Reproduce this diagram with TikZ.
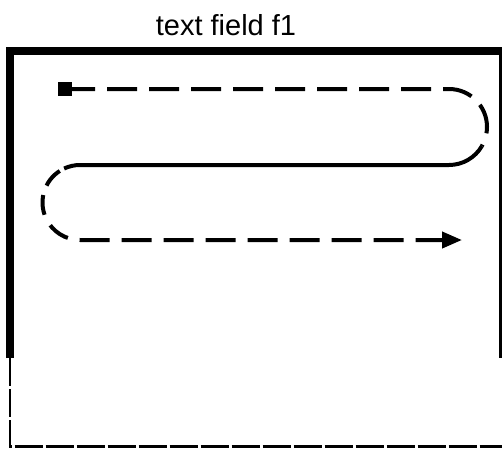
\documentclass[tikz,border=0pt]{standalone}
\usepackage{fontspec}
\setmainfont{Liberation Sans}
\usetikzlibrary{arrows.meta,calc}
\begin{document}
\begin{tikzpicture}[x=1pt,y=-1pt,
  frame/.style={line width=7.5pt},
  framelow/.style={line width=2.5pt,dash pattern=on 28pt off 3pt},
  route/.style={line width=4pt},
  routedash/.style={route,dash pattern=on 30pt off 12pt},
  arcdash/.style={route,dash pattern=on 20pt off 10pt on 20pt off 12pt on 22pt off 12pt on 30pt off 12pt on 30pt off 12pt on 30pt off 12pt on 30pt off 12pt on 30pt off 12pt on 30pt off 12pt on 30pt off 12pt on 30pt off 12pt on 30pt off 12pt},
  startmark/.style={fill=black,minimum size=14pt,inner sep=0pt,outer sep=0pt},
  title/.style={font=\fontsize{29}{34}\selectfont,inner sep=0pt,anchor=base}]
\useasboundingbox (0,0) rectangle (502,448);

% heading
\node[title] (head) at (226,35) {text field f1};

% field outline: solid upper part, dashed lower part
\draw[frame] (10,358) -- (10,51) -- (503,51) -- (503,358);
\draw[framelow] (10,358) -- (10,446.5) -- (503,446.5) -- (503,358);

% reading route
\node[startmark] (start) at (65,89) {};
\coordinate (rc) at (449,127);
\coordinate (lc) at (80,202.5);
\coordinate (rtop) at (449,89);
\coordinate (rmid) at ($(rc)+(30:38)$);
\coordinate (lbot) at (80,165);
\coordinate (lmid) at ($(lc)+(245:37.5)$);
\coordinate (goal) at (462,240);

\draw[routedash,dash phase=7pt] (start.east) -- (rtop)
  arc[start angle=270,end angle=390,radius=38];
\draw[route] (rmid) arc[start angle=30,end angle=90,radius=38]
  -- (lbot) arc[start angle=270,end angle=245,radius=37.5];
\draw[arcdash,dash phase=-5pt,-{Triangle[length=20pt,width=16pt]}] (lmid)
  arc[start angle=245,end angle=90,radius=37.5] -- (goal);
\end{tikzpicture}
\end{document}
